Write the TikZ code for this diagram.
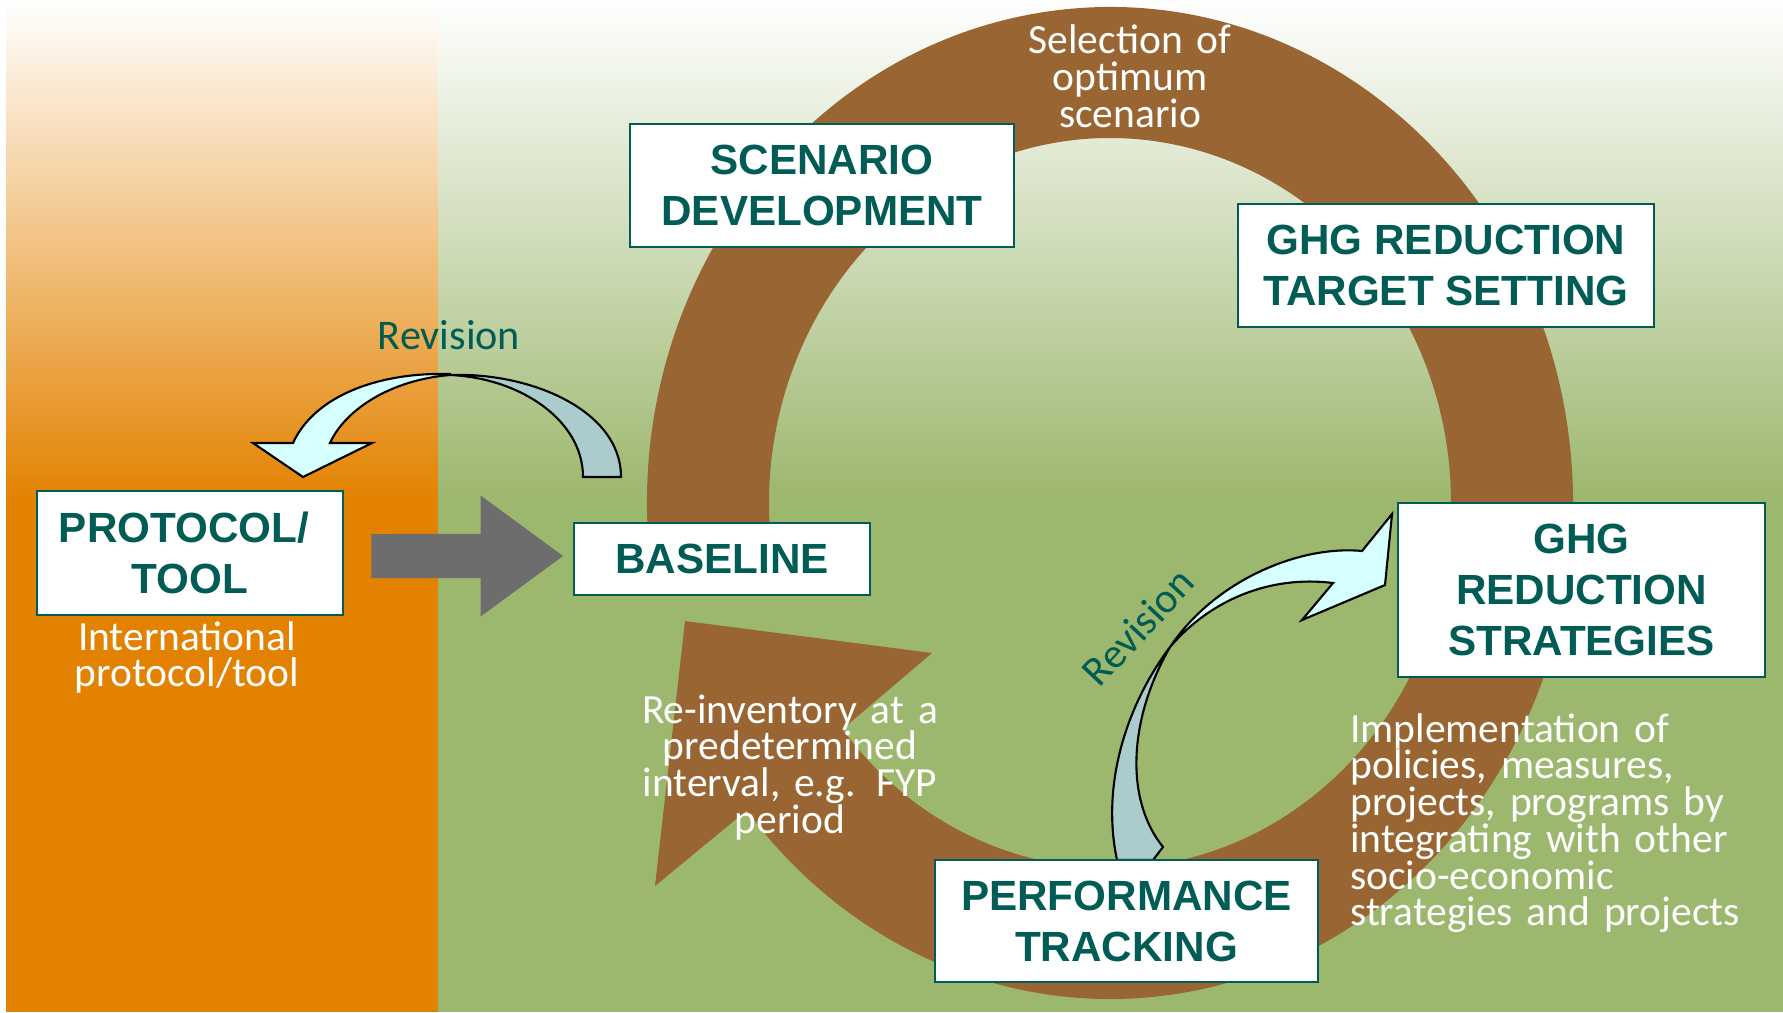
\documentclass[tikz,border=0pt]{standalone}
\usepackage{fontspec}
\setmainfont{Carlito}
\newfontfamily\boxfont{Liberation Sans}
\usetikzlibrary{arrows.meta}

\definecolor{ghgteal}{HTML}{005C54}
\definecolor{ringbrown}{HTML}{996633}
\definecolor{fieldgreen}{HTML}{9CB76E}
\definecolor{panelorange}{HTML}{E38200}
\definecolor{arrowgray}{HTML}{6D6D6D}
\definecolor{revfront}{HTML}{D6FFFF}
\definecolor{revback}{HTML}{AACCCC}

\begin{document}
\begin{tikzpicture}[x = 0.01cm, y = -0.01cm,
                    stage/.style = {draw = ghgteal, line width = 0.7pt, fill = white, text = ghgteal,
                                    align = center, inner sep = 0pt,
                                    font = {\boxfont\bfseries\fontsize{12}{14.5}\selectfont}},
                    note/.style = {text = white, inner sep = 0pt, align = center,
                                   font = {\fontsize{11.8}{10.45}\selectfont\lineskiplimit=-10pt}},
                    revlabel/.style = {text = ghgteal, inner sep = 0pt, font = {\fontsize{12}{14}\selectfont}},
                    front/.style = {draw = black, line width = 0.6pt, fill = revfront},
                    back/.style = {draw = black, line width = 0.6pt, fill = revback},
                    bigarrow/.style = {draw = arrowgray, line width = 0.44cm,
                                       -{Triangle[length = 0.83cm, width = 1.15cm]}}]
      \useasboundingbox (0,0) rectangle (1783,1012);

      % background panels
      \fill [white] (0,0) rectangle (1783,1012);
      \shade [top color = white, bottom color = panelorange] (6,0) rectangle (438,502);
      \fill [panelorange] (6,500) rectangle (438,1012);
      \shade [top color = white, bottom color = fieldgreen] (438,0) rectangle (1783,502);
      \fill [fieldgreen] (438,500) rectangle (1783,1012);

      % the cycle
      \fill [ringbrown] (1110,503) ++(173:463 and 496)
            arc [start angle = 173, end angle = 501.7, x radius = 463, y radius = 496]
            -- (655,886) -- (685,621) -- (932,653) -- (842.4,729.2)
            arc [start angle = 501.7, end angle = 173, x radius = 341, y radius = 365] -- cycle;

      % revision arrows
      \draw [back] (450,375) .. controls (530,372) and (621,410) .. (621,477) -- (583,477)
            .. controls (583,420) and (520,378) .. (450,375) -- cycle;
      \draw [front] (450,374) .. controls (380,372) and (315,395) .. (293,443) -- (253,443) -- (303,477)
            -- (372,443) -- (330,443) .. controls (345,410) and (390,380) .. (450,375) -- cycle;
      \draw [back] (1170,647) .. controls (1130,700) and (1100,780) .. (1117,860) -- (1153,860) -- (1163,847)
            .. controls (1125,800) and (1128,720) .. (1170,647) -- cycle;
      \draw [front] (1170,647) .. controls (1215,580) and (1300,545) .. (1362,551) -- (1392,514) -- (1385,585)
            -- (1302,620) -- (1333,583) .. controls (1270,575) and (1210,600) .. (1170,647) -- cycle;

      \node [stage, minimum width = 3.84cm, minimum height = 1.23cm] (scenario) at (822,185.5) {SCENARIO\\DEVELOPMENT};
      \node [stage, minimum width = 4.16cm, minimum height = 1.23cm] (target) at (1446,265.5) {GHG REDUCTION\\TARGET SETTING};
      \node [stage, minimum width = 3.67cm, minimum height = 1.74cm] (strategy) at (1581.5,590) {GHG\\REDUCTION\\STRATEGIES};
      \node [stage, minimum width = 3.83cm, minimum height = 1.22cm] (tracking) at (1126.5,921) {PERFORMANCE\\TRACKING};
      \node [stage, minimum width = 2.96cm, minimum height = 0.72cm] (base) at (722,559) {BASELINE};
      \node [stage, minimum width = 3.06cm, minimum height = 1.24cm] (proto) at (190,553) {PROTOCOL/\hspace*{0.12cm}\\TOOL};

      \draw [bigarrow] ([xshift = 0.27cm, yshift = -0.03cm]proto.east) -- ([xshift = -0.09cm, yshift = 0.03cm]base.west);

      \node [note, text width = 3cm, anchor = base] (select) at (1130,54) {Selection of\\optimum\\scenario};
      \node [note, text width = 2.8cm, anchor = base] (intl) at (187,650) {International\\protocol/tool};
      \node [note, text width = 3.4cm, anchor = base] (reinv) at (790,723) {Re-inventory at a\\predetermined\\interval, e.g. FYP\\period};
      \node [note, text width = 4.4cm, align = left, anchor = base west] (impl) at (1349.5,742)
            {Implementation of\\policies, measures,\\projects, programs by\\integrating with other\\socio-economic\\strategies and projects};
      \node [revlabel, anchor = base] (revtop) at (449,349) {Revision};
      \node [revlabel, rotate = 47] (revlow) at (1138,627) {Revision};
      \end{tikzpicture}
\end{document}
